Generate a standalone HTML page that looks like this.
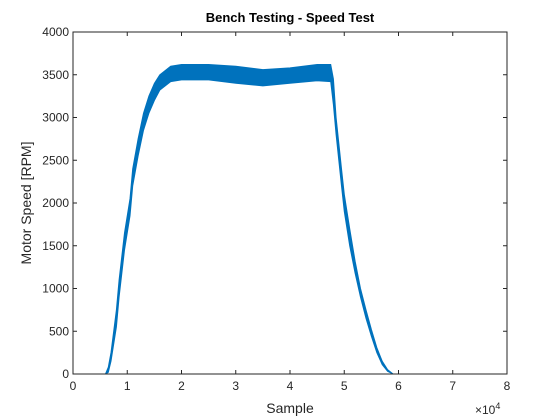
<!DOCTYPE html>
<html><head><meta charset="utf-8"><style>
body{margin:0;background:#fff;}
svg{display:block;font-family:"Liberation Sans",sans-serif;}
</style></head><body>
<svg id="chart" width="560" height="420">
<rect width="560" height="420" fill="#fff"/>
<text x="290" y="22" text-anchor="middle" font-size="13" font-weight="bold" fill="#000">Bench Testing - Speed Test</text>
<g id="plot"></g>
<text x="290" y="413" text-anchor="middle" font-size="14" fill="#262626">Sample</text>
<text transform="translate(31,203) rotate(-90)" text-anchor="middle" font-size="14" fill="#262626">Motor Speed [RPM]</text>
<text x="475" y="414" font-size="12" fill="#262626">×10<tspan dy="-5" font-size="9">4</tspan></text>
</svg>
<script>
const samples = [0,0.6,0.65,0.7,0.8,0.85,0.95,1.05,1.1,1.2,1.3,1.4,1.5,1.6,1.8,2.0,2.5,3.0,3.5,4.0,4.5,4.75,4.8,4.85,4.9,4.95,5.0,5.1,5.2,5.3,5.4,5.5,5.6,5.7,5.8,5.9,7.25];
const speedHi = [0,0,80,250,750,1100,1650,2050,2400,2750,3050,3250,3400,3500,3600,3620,3620,3600,3560,3580,3620,3620,3450,3000,2700,2400,2100,1700,1320,1000,750,520,310,150,50,0,0];
const speedLo = [0,0,20,150,550,900,1450,1850,2200,2550,2850,3050,3200,3320,3420,3440,3440,3400,3370,3400,3430,3420,3150,2800,2500,2200,1900,1500,1180,900,650,440,250,110,30,0,0];
const xTicks = [0,1,2,3,4,5,6,7,8];
const yTicks = [0,500,1000,1500,2000,2500,3000,3500,4000];
const L=73,R=507,T=32,B=374;
const xs=v=>L+(v-0)/(8)*(R-L);
const ys=v=>B-v/4000*(B-T);
const ns="http://www.w3.org/2000/svg";
const g=document.getElementById('plot');
function mk(t,a){const e=document.createElementNS(ns,t);for(const k in a)e.setAttribute(k,a[k]);g.appendChild(e);return e;}
// band
let d='';
samples.forEach((s,i)=>{d+=(i?'L':'M')+xs(s).toFixed(1)+','+ys(speedHi[i]).toFixed(1);});
for(let i=samples.length-1;i>=0;i--)d+='L'+xs(samples[i]).toFixed(1)+','+ys(speedLo[i]).toFixed(1);
d+='Z';
const band=mk('path',{d:d,fill:'#0072BD',stroke:'#0072BD','stroke-width':1});


// axes box
const box=mk('rect',{x:L,y:T,width:R-L,height:B-T,fill:'none',stroke:'#262626','stroke-width':1});


xTicks.forEach(v=>{
 const x=xs(v);
 mk('line',{x1:x,x2:x,y1:B,y2:B-4,stroke:'#262626'});
 mk('line',{x1:x,x2:x,y1:T,y2:T+4,stroke:'#262626'});
 const t=mk('text',{x:x,y:B+16,'text-anchor':'middle','font-size':12,fill:'#262626'});
 t.textContent=v;
 
 
});
yTicks.forEach(v=>{
 const y=ys(v);
 mk('line',{x1:L,x2:L+4,y1:y,y2:y,stroke:'#262626'});
 mk('line',{x1:R,x2:R-4,y1:y,y2:y,stroke:'#262626'});
 const t=mk('text',{x:L-4,y:y+4,'text-anchor':'end','font-size':12,fill:'#262626'});
 t.textContent=v;
 
 
});
</script>
</body></html>
